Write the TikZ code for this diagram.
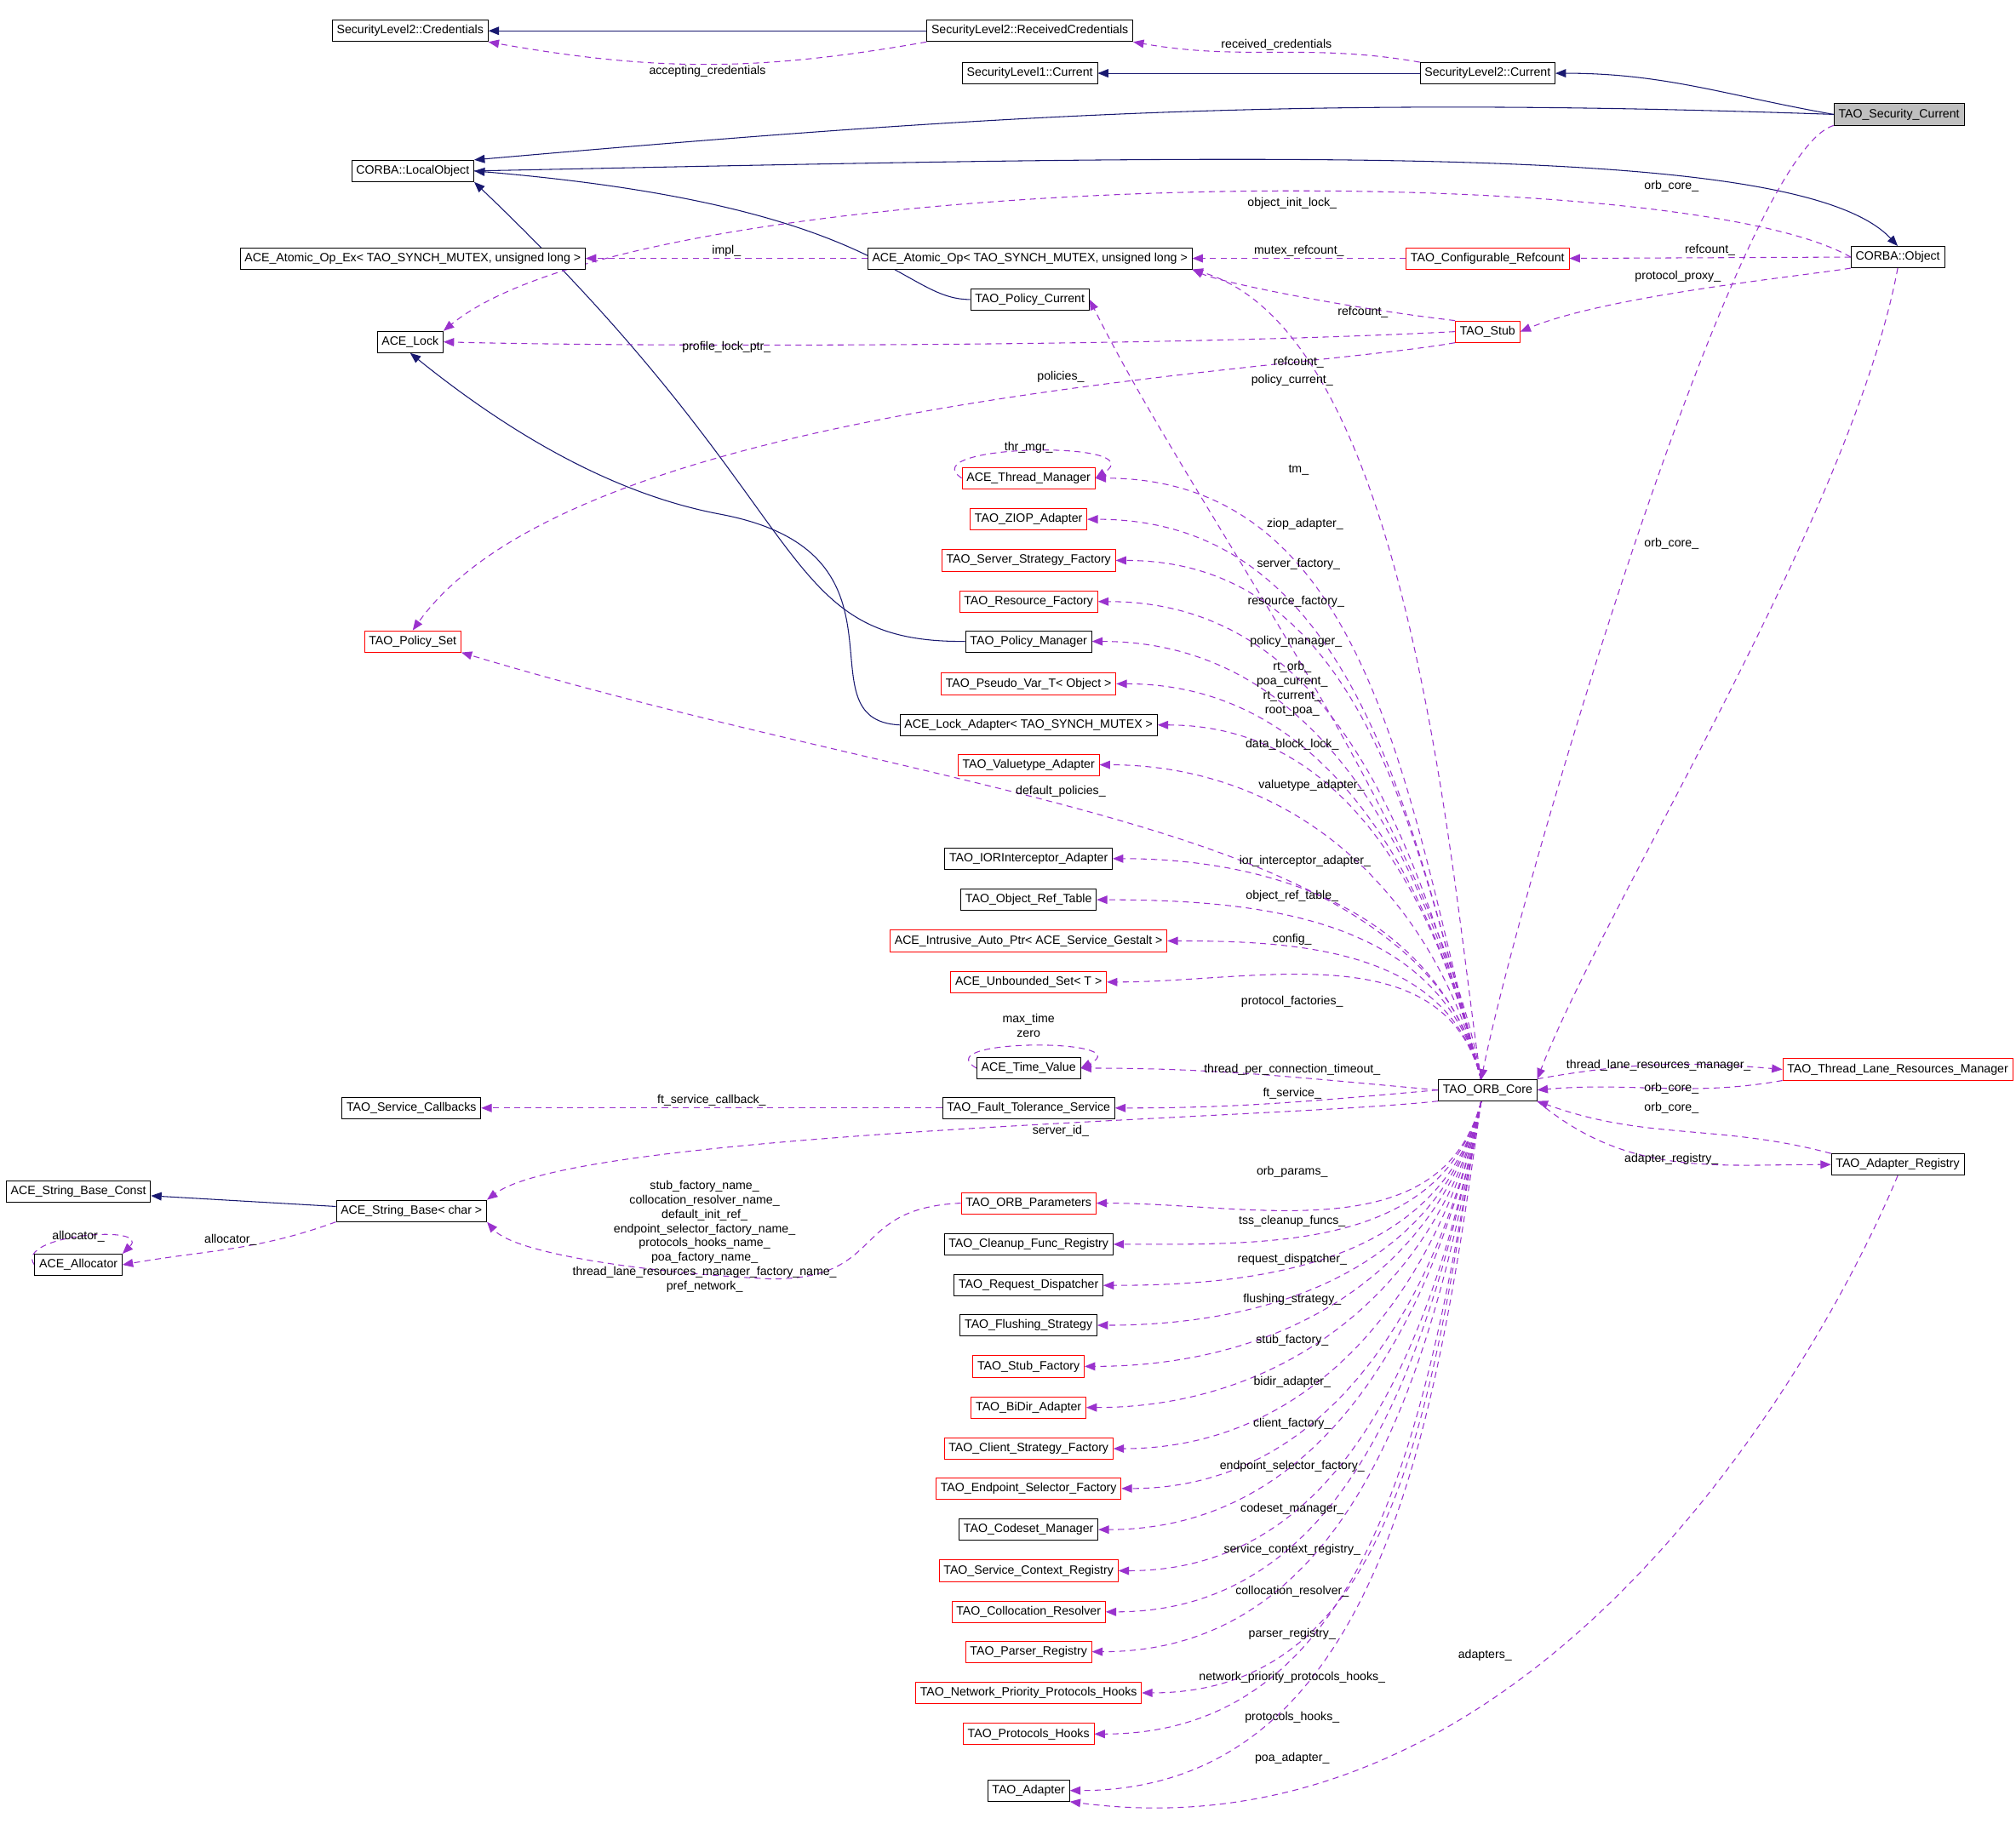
\documentclass[tikz,border=0pt]{standalone}
\usepackage{fontspec}
\setmainfont{Liberation Sans}
\usetikzlibrary{arrows.meta}
\definecolor{inh}{RGB}{25,25,112}
\definecolor{usec}{RGB}{154,50,205}
\pgfdeclarelayer{bg}
\pgfsetlayers{bg,main}
\begin{document}
\begin{tikzpicture}[x=0.03cm,y=-0.03cm,
  cls/.style={draw=black,fill=white,font=\fontsize{8}{10}\selectfont,inner xsep=3pt,inner ysep=0pt,minimum height=0.5cm,line width=0.5pt},
  rcls/.style={cls,draw=red},
  lbl/.style={font=\fontsize{8}{9.5}\selectfont,inner sep=0pt,align=center},
  inhe/.style={draw=inh,line width=0.6pt,-{Triangle[length=7pt,width=5.5pt]}},
  use/.style={draw=usec,dashed,dash pattern=on 4pt off 3pt,line width=0.6pt,-{Triangle[length=7pt,width=5.5pt,fill=usec]}}]
\useasboundingbox (0,0) rectangle (1568,1432);
% nodes
\node[cls] (cred) at (319,24) {SecurityLevel2::Credentials};
\node[cls] (rcred) at (801,24) {SecurityLevel2::ReceivedCredentials};
\node[cls] (s1cur) at (801,57) {SecurityLevel1::Current};
\node[cls] (s2cur) at (1157,57) {SecurityLevel2::Current};
\node[cls,fill=black!25] (tsc) at (1477,89) {TAO\_Security\_Current};
\node[cls] (lobj) at (321,133) {CORBA::LocalObject};
\node[cls] (cobj) at (1476,200) {CORBA::Object};
\node[cls] (aopex) at (321,201) {ACE\_Atomic\_Op\_Ex< TAO\_SYNCH\_MUTEX, unsigned long >};
\node[cls] (aop) at (801,201) {ACE\_Atomic\_Op< TAO\_SYNCH\_MUTEX, unsigned long >};
\node[rcls] (cref) at (1157,201) {TAO\_Configurable\_Refcount};
\node[cls] (pcur) at (801,233) {TAO\_Policy\_Current};
\node[cls] (lock) at (319,266) {ACE\_Lock};
\node[rcls] (stub) at (1157,258) {TAO\_Stub};
\node[rcls] (thm) at (800,372) {ACE\_Thread\_Manager};
\node[rcls] (ziop) at (800,404) {TAO\_ZIOP\_Adapter};
\node[rcls] (ssf) at (800,436) {TAO\_Server\_Strategy\_Factory};
\node[rcls] (rf) at (800,468) {TAO\_Resource\_Factory};
\node[rcls] (pset) at (321,499) {TAO\_Policy\_Set};
\node[cls] (pman) at (800,499) {TAO\_Policy\_Manager};
\node[rcls] (pvar) at (800,532) {TAO\_Pseudo\_Var\_T< Object >};
\node[cls] (ladp) at (800,564) {ACE\_Lock\_Adapter< TAO\_SYNCH\_MUTEX >};
\node[rcls] (vta) at (800,595) {TAO\_Valuetype\_Adapter};
\node[cls] (iora) at (800,668) {TAO\_IORInterceptor\_Adapter};
\node[cls] (ort) at (800,700) {TAO\_Object\_Ref\_Table};
\node[rcls] (iap) at (800,732) {ACE\_Intrusive\_Auto\_Ptr< ACE\_Service\_Gestalt >};
\node[rcls] (uset) at (800,764) {ACE\_Unbounded\_Set< T >};
\node[cls] (tv) at (800,831) {ACE\_Time\_Value};
\node[cls] (fts) at (800,862) {TAO\_Fault\_Tolerance\_Service};
\node[cls] (scb) at (320,862) {TAO\_Service\_Callbacks};
\node[cls] (core) at (1157,848) {TAO\_ORB\_Core};
\node[rcls] (tlrm) at (1476,832) {TAO\_Thread\_Lane\_Resources\_Manager};
\node[cls] (areg) at (1476,906) {TAO\_Adapter\_Registry};
\node[cls] (sbc) at (61,927) {ACE\_String\_Base\_Const};
\node[cls] (sb) at (320,942) {ACE\_String\_Base< char >};
\node[cls] (alloc) at (61,984) {ACE\_Allocator};
\node[rcls] (opar) at (800,936) {TAO\_ORB\_Parameters};
\node[cls] (cfr) at (800,968) {TAO\_Cleanup\_Func\_Registry};
\node[cls] (rd) at (800,1000) {TAO\_Request\_Dispatcher};
\node[cls] (fs) at (800,1031) {TAO\_Flushing\_Strategy};
\node[rcls] (sf) at (800,1063) {TAO\_Stub\_Factory};
\node[rcls] (bda) at (800,1095) {TAO\_BiDir\_Adapter};
\node[rcls] (csf) at (800,1127) {TAO\_Client\_Strategy\_Factory};
\node[rcls] (esf) at (800,1158) {TAO\_Endpoint\_Selector\_Factory};
\node[cls] (csm) at (800,1190) {TAO\_Codeset\_Manager};
\node[rcls] (scr) at (800,1222) {TAO\_Service\_Context\_Registry};
\node[rcls] (cres) at (800,1254) {TAO\_Collocation\_Resolver};
\node[rcls] (preg) at (800,1285) {TAO\_Parser\_Registry};
\node[rcls] (nph) at (800,1317) {TAO\_Network\_Priority\_Protocols\_Hooks};
\node[rcls] (ph) at (800,1349) {TAO\_Protocols\_Hooks};
\node[cls] (adp) at (800,1393) {TAO\_Adapter};
\coordinate (cN) at (1152,840);
\coordinate (cS) at (1152,857);
\begin{pgfonlayer}{bg}
% inheritance
\draw[inhe] (rcred) -- (cred);
\draw[inhe] (s2cur) -- (s1cur);
\draw[inhe] (tsc.west) to[out=170,in=0] (s2cur.east);
\draw[inhe] (tsc.west) to[out=178,in=5] (lobj.north east);
\draw[inhe] (lobj.east) .. controls (1000,120) and (1400,110) .. (cobj.north);
\draw[inhe] (pcur.west) .. controls (700,233) and (690,160) .. (lobj.east);
\draw[inhe] (pman.west) .. controls (600,500) and (640,400) .. (lobj.south east);
\draw[inhe] (ladp.west) .. controls (620,560) and (720,430) .. (560,400) .. controls (480,385) and (400,340) .. (lock.south);
\draw[inhe] (sb) -- (sbc);
% dashed
\draw[use] (rcred.south west) to[out=190,in=-10] node[lbl,pos=.5,below=1pt]{accepting\_credentials} (cred.south east);
\draw[use] (s2cur.north west) to[out=170,in=-10] node[lbl,pos=.5,above=1pt]{received\_credentials} (rcred.south east);
\draw[use] (tsc.south west) .. controls (1350,120) and (1180,700) .. (cN);
\draw[use] (cobj.west) .. controls (1300,120) and (500,130) .. (lock.north east);
\draw[use] (cobj.west) -- node[lbl,above=1pt]{refcount\_} (cref.east);
\draw[use] (cobj.south west) .. controls (1400,215) and (1250,230) .. (stub.east);
\draw[use] (cobj.south) .. controls (1440,400) and (1250,700) .. (core.north east);
\draw[use] (aop.west) -- node[lbl,above=1pt]{impl\_} (aopex.east);
\draw[use] (cref.west) -- node[lbl,above=1pt]{mutex\_refcount\_} (aop.east);
\draw[use] (stub.north west) .. controls (1050,240) and (950,220) .. (aop.south east);
\draw[use] (stub.west) .. controls (900,270) and (500,270) .. (lock.east);
\draw[use] (stub.south west) .. controls (1000,290) and (450,310) .. (pset.north);
\draw[use] (cN) .. controls (1130,700) and (1100,260) .. (aop.south east);
\draw[use] (cN) .. controls (1120,650) and (930,400) .. (pcur.east);
% self loops
\draw[use] (thm.west) .. controls +(-1.2cm,0.8cm) and +(1.4cm,0.9cm) .. (thm.east);
\draw[use] (tv.west) .. controls +(-1.2cm,0.7cm) and +(1.4cm,0.7cm) .. (tv.east);
\draw[use] (alloc.west) .. controls +(-0.5cm,0.7cm) and +(0.7cm,0.7cm) .. (alloc.north east);
% core -> upper column
\foreach \t/\a in {thm/105,ziop/105,ssf/105,rf/105,pman/104,pvar/104,ladp/104,vta/104,iora/104,ort/104,iap/104,uset/104}
  \draw[use] (cN) to[out=\a,in=0] (\t.east);
\draw[use] (cN) .. controls (1110,640) and (750,625) .. (pset.south east);
\draw[use] (core.west) to[out=175,in=0] (tv.east);
\draw[use] (core.west) to[out=185,in=0] (fts.east);
\draw[use] (fts.west) -- node[lbl,above=1pt]{ft\_service\_callback\_} (scb.east);
\draw[use] (core.south west) .. controls (1000,870) and (450,880) .. (sb.north east);
\foreach \t/\a in {opar/-105,cfr/-105,rd/-104,fs/-104,sf/-104,bda/-103,csf/-103,esf/-102,csm/-102,scr/-101,cres/-101,preg/-100,nph/-100,ph/-100,adp/-98}
  \draw[use] (cS) to[out=\a,in=0] (\t.east);
\draw[use] (opar.west) .. controls (660,940) and (690,995) .. (600,995) .. controls (500,990) and (400,975) .. (sb.south east);
\draw[use] (sb.south west) to[out=200,in=10] node[lbl,pos=.5,above=2pt]{allocator\_} (alloc.east);
\draw[use] (core.north east) to[out=10,in=175] (tlrm.west);
\draw[use] (tlrm.south west) to[out=190,in=5] (core.east);
\draw[use] (areg.north west) to[out=165,in=-20] (core.south east);
\draw[use] (core.south east) to[out=-40,in=180] (areg.west);
\draw[use] (areg.south) .. controls (1420,1050) and (1200,1450) .. (adp.south east);
\end{pgfonlayer}
\node[lbl] at (1300,145) {orb\_core\_};
\node[lbl] at (1005,158) {object\_init\_lock\_};
\node[lbl] at (1305,215) {protocol\_proxy\_};
\node[lbl] at (1300,423) {orb\_core\_};
\node[lbl] at (1060,243) {refcount\_};
\node[lbl] at (565,270) {profile\_lock\_ptr\_};
\node[lbl] at (825,293) {policies\_};
\node[lbl] at (1010,282) {refcount\_};
\node[lbl] at (1005,296) {policy\_current\_};
\node[lbl] at (800,348) {thr\_mgr\_};
\node[lbl] at (800,798) {max\_time\\zero};
\node[lbl] at (61,962) {allocator\_};
\node[lbl] at (1010,366) {tm\_};
\node[lbl] at (1015,408) {ziop\_adapter\_};
\node[lbl] at (1010,439) {server\_factory\_};
\node[lbl] at (1008,468) {resource\_factory\_};
\node[lbl] at (1008,499) {policy\_manager\_};
\node[lbl] at (1005,536) {rt\_orb\_\\poa\_current\_\\rt\_current\_\\root\_poa\_};
\node[lbl] at (1005,579) {data\_block\_lock\_};
\node[lbl] at (1020,611) {valuetype\_adapter\_};
\node[lbl] at (825,616) {default\_policies\_};
\node[lbl] at (1015,670) {ior\_interceptor\_adapter\_};
\node[lbl] at (1005,697) {object\_ref\_table\_};
\node[lbl] at (1005,731) {config\_};
\node[lbl] at (1005,779) {protocol\_factories\_};
\node[lbl] at (1005,832) {thread\_per\_connection\_timeout\_};
\node[lbl] at (1005,851) {ft\_service\_};
\node[lbl] at (825,880) {server\_id\_};
\node[lbl] at (1005,912) {orb\_params\_};
\node[lbl] at (1005,950) {tss\_cleanup\_funcs\_};
\node[lbl] at (1005,980) {request\_dispatcher\_};
\node[lbl] at (1005,1011) {flushing\_strategy\_};
\node[lbl] at (1005,1043) {stub\_factory\_};
\node[lbl] at (1005,1075) {bidir\_adapter\_};
\node[lbl] at (1005,1108) {client\_factory\_};
\node[lbl] at (1005,1141) {endpoint\_selector\_factory\_};
\node[lbl] at (1005,1174) {codeset\_manager\_};
\node[lbl] at (1005,1206) {service\_context\_registry\_};
\node[lbl] at (1005,1238) {collocation\_resolver\_};
\node[lbl] at (1005,1271) {parser\_registry\_};
\node[lbl] at (1005,1305) {network\_priority\_protocols\_hooks\_};
\node[lbl] at (1005,1336) {protocols\_hooks\_};
\node[lbl] at (1005,1368) {poa\_adapter\_};
\node[lbl] at (548,962) {stub\_factory\_name\_\\collocation\_resolver\_name\_\\default\_init\_ref\_\\endpoint\_selector\_factory\_name\_\\protocols\_hooks\_name\_\\poa\_factory\_name\_\\thread\_lane\_resources\_manager\_factory\_name\_\\pref\_network\_};
\node[lbl] at (1290,829) {thread\_lane\_resources\_manager\_};
\node[lbl] at (1300,847) {orb\_core\_};
\node[lbl] at (1300,862) {orb\_core\_};
\node[lbl] at (1300,902) {adapter\_registry\_};
\node[lbl] at (1155,1288) {adapters\_};
\end{tikzpicture}
\end{document}
